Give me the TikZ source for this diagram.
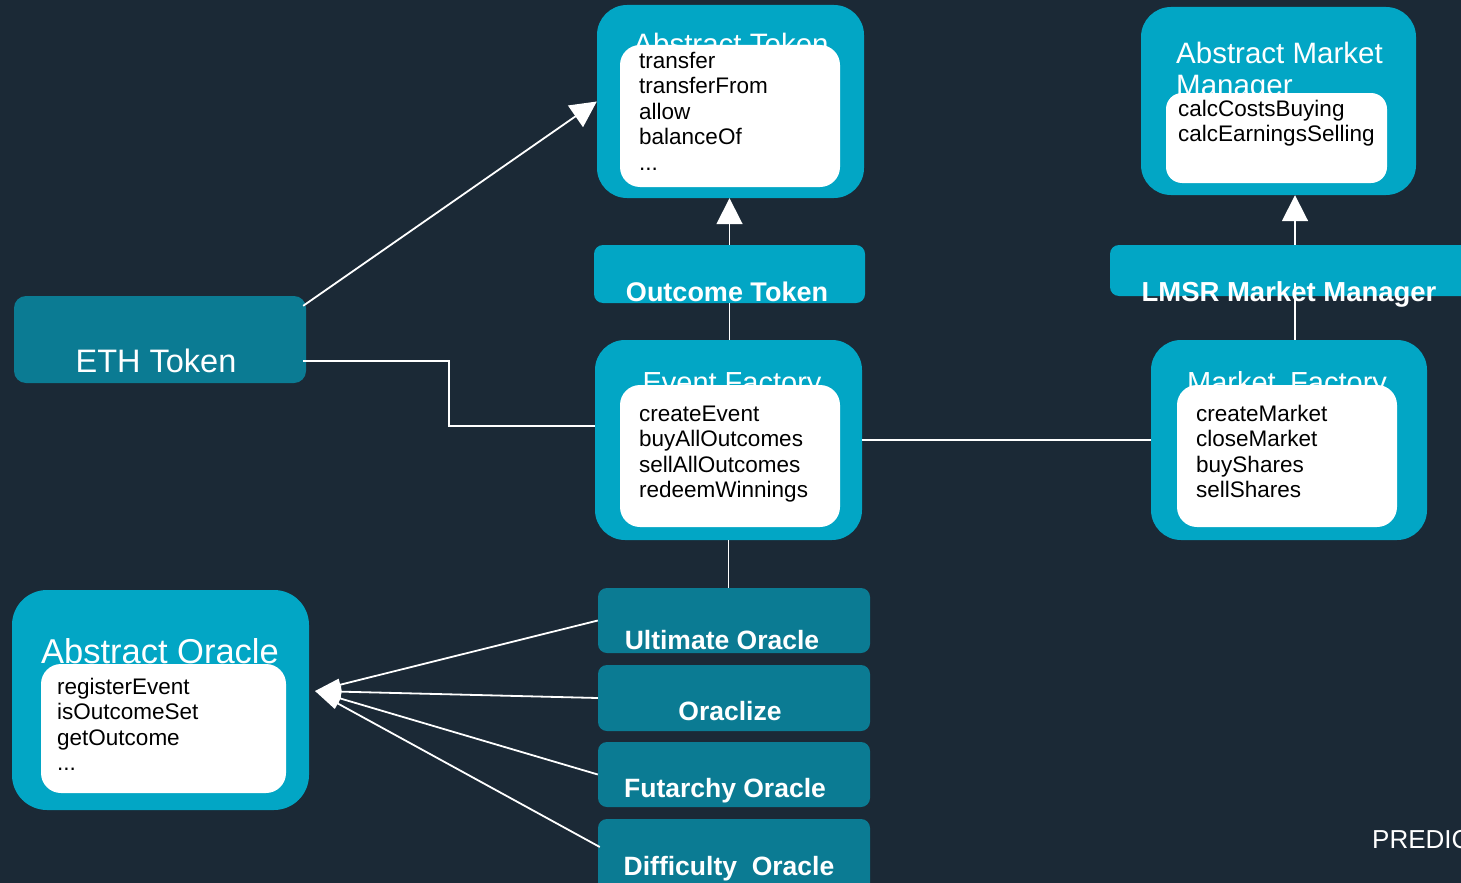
\documentclass[tikz,border=0pt]{standalone}
\usepackage{fontspec}
\setmainfont{Liberation Sans}
\usetikzlibrary{arrows.meta}
\definecolor{bgc}{HTML}{1B2936}
\definecolor{lt}{HTML}{02A6C5}
\definecolor{dk}{HTML}{0B7B93}
\begin{document}
\begin{tikzpicture}[x=1pt,y=-1pt,
 bigbox/.style={draw=none,fill=lt,rounded corners=30pt,inner sep=0pt},
 whitebox/.style={fill=white,rounded corners=20pt,inner sep=0pt},
 smallbox/.style={fill=#1,rounded corners=9pt,inner sep=0pt},
 ttl/.style={text=white,font=\fontsize{29}{32}\selectfont,inner sep=0pt},
 btl/.style={text=white,font=\bfseries\fontsize{26.5}{30}\selectfont,inner sep=0pt},
 lst/.style={text=black,font=\fontsize{22.5}{25.5}\selectfont,align=left,inner sep=0pt,anchor=base west},
 conn/.style={draw=white,line width=1.8pt},
 arr/.style={conn,-{Triangle[width=26pt,length=26pt]}},
 arrs/.style={conn,-{Triangle[width=12pt,length=26pt]}}]
\fill[bgc] (0,0) rectangle (1461,883);
\useasboundingbox (0,0) rectangle (1461,883);

% Abstract Token
\node[bigbox,minimum width=267pt,minimum height=193pt] (at) at (730.5,101.5) {};
\node[ttl,font=\fontsize{29.5}{32}\selectfont,anchor=base] (att) at (731,55) {Abstract Token};
\node[whitebox,minimum width=220pt,minimum height=142pt] (atw) at (730,116) {};
\node[lst] (atl) at (639,170) {transfer\\transferFrom\\allow\\balanceOf\\...};

% Outcome Token
\node[smallbox=lt,minimum width=271pt,minimum height=58pt] (ot) at (729.5,274) {};
\node[btl,font=\bfseries\fontsize{27}{30}\selectfont,anchor=base] (ott) at (727,301) {Outcome Token};

% ETH Token
\node[smallbox=dk,rounded corners=12pt,minimum width=292pt,minimum height=87pt] (eth) at (160,339.5) {};
\node[ttl,font=\fontsize{32.5}{36}\selectfont,anchor=base] (etht) at (156,372) {ETH Token};

% Event Factory
\node[bigbox,minimum width=267pt,minimum height=200pt] (ef) at (728.5,440) {};
\node[ttl,anchor=base] (eft) at (732,392) {Event Factory};
\node[whitebox,minimum width=220pt,minimum height=142pt] (efw) at (730,456) {};
\node[lst] (efl) at (639,497.5) {createEvent\\buyAllOutcomes\\sellAllOutcomes\\redeemWinnings};

% Market Factory
\node[bigbox,minimum width=276pt,minimum height=200pt] (mf) at (1289,440) {};
\node[ttl,anchor=base] (mft) at (1287,392) {Market\enspace Factory};
\node[whitebox,minimum width=220pt,minimum height=142pt] (mfw) at (1287,456) {};
\node[lst] (mfl) at (1196,497.5) {createMarket\\closeMarket\\buyShares\\sellShares};

% Abstract Market Manager
\node[bigbox,minimum width=275pt,minimum height=188pt] (amm) at (1278.5,101) {};
\node[ttl,font=\fontsize{29.5}{32}\selectfont,align=left,anchor=base west] (ammt) at (1176,95) {Abstract Market\\Manager};
\node[whitebox,rounded corners=16pt,minimum width=221pt,minimum height=90pt] (ammw) at (1276.5,138) {};
\node[lst] (amml) at (1178,141.5) {calcCostsBuying\\calcEarningsSelling};

% LMSR Market Manager
\node[smallbox=lt,minimum width=365pt,minimum height=51pt] (lmsr) at (1292.5,270.5) {};
\node[btl,font=\bfseries\fontsize{27.5}{30}\selectfont,anchor=base] (lmsrt) at (1289,301) {LMSR Market Manager};

% Abstract Oracle
\node[bigbox,rounded corners=35pt,minimum width=297pt,minimum height=220pt] (ao) at (160.5,700) {};
\node[ttl,font=\fontsize{34.5}{38}\selectfont,anchor=base] (aot) at (160,663) {Abstract Oracle};
\node[whitebox,minimum width=245pt,minimum height=129pt] (aow) at (163.5,728.5) {};
\node[lst] (aol) at (57,770.5) {registerEvent\\isOutcomeSet\\getOutcome\\...};

% Oracles
\node[smallbox=dk,minimum width=272pt,minimum height=65pt] (ult) at (734,620.5) {};
\node[btl,anchor=base] (ultt) at (722,649) {Ultimate Oracle};
\node[smallbox=dk,minimum width=272pt,minimum height=66pt] (orz) at (734,698) {};
\node[btl,anchor=base] (orzt) at (730,720) {Oraclize};
\node[smallbox=dk,minimum width=272pt,minimum height=65pt] (fut) at (734,774.5) {};
\node[btl,anchor=base] (futt) at (725,797) {Futarchy Oracle};
\node[smallbox=dk,minimum width=272pt,minimum height=76pt] (dif) at (734,857) {};
\node[btl,anchor=base] (dift) at (729,875) {Difficulty\ \ Oracle};

\node[text=white,font=\fontsize{26}{30}\selectfont,anchor=base west,inner sep=0pt] (pred) at (1372,848) {PREDIC};

% connectors
\coordinate (aoin) at (315,691);
\coordinate (lm1) at ([xshift=2.5pt]lmsr.north);
\coordinate (lm2) at ([xshift=2.5pt,yshift=-12pt]lmsr.center);
\coordinate (e1) at ([xshift=-3pt,yshift=-10pt]eth.north east);
\coordinate (e2) at ([xshift=-3pt,yshift=-21.5pt]eth.east);
\draw[arr] (e1) -- (at.west);
\draw[conn] (e2) -- ++(146,0) |- ([yshift=14pt]ef.west);
\draw[arr] (ot.north) -- (ot.north |- at.south);
\draw[conn] (ot.south) -- (ot.south |- ef.north);
\draw[conn] (ef.east) -- (mf.west);
\draw[conn] (ef.south) -- (ef.south |- ult.north);
\draw[arr] (lm1) -- (lm1 |- amm.south);
\draw[conn] (lm2) -- (lm2 |- mf.north);
\draw[arrs] (ult.west) -- (aoin);
\draw[arrs] (orz.west) -- (aoin);
\draw[arrs] (fut.west) -- (aoin);
\draw[arrs] ([xshift=2pt,yshift=10pt]dif.west) -- (aoin);
\end{tikzpicture}
\end{document}
